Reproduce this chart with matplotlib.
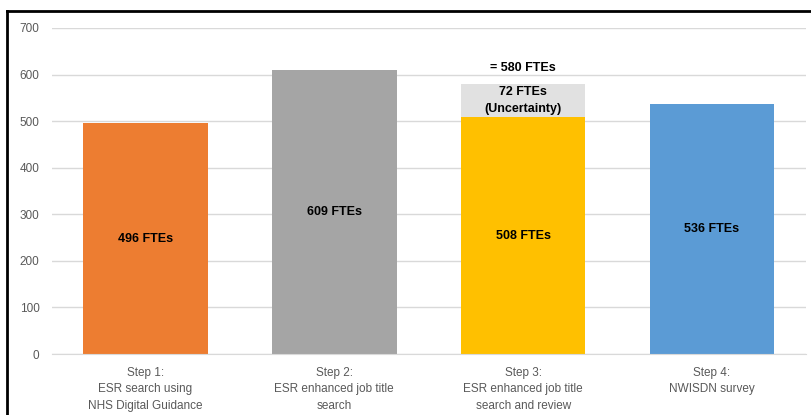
import matplotlib.pyplot as plt
from matplotlib.lines import Line2D

steps = ["Step 1:\nESR search using\nNHS Digital Guidance",
         "Step 2:\nESR enhanced job title\nsearch",
         "Step 3:\nESR enhanced job title\nsearch and review",
         "Step 4:\nNWISDN survey"]
ftes = [496, 609, 508, 536]
uncertainty = [0, 0, 72, 0]
colors = ["#ED7D31", "#A5A5A5", "#FFC000", "#5B9BD5"]

plt.rcParams['font.family'] = ['Liberation Sans', 'DejaVu Sans']

fig = plt.figure(figsize=(8.11, 4.15), dpi=100)
ax = fig.add_axes([52 / 811, 61 / 415, 754 / 811, 326 / 415])

x = range(len(steps))
ax.bar(x, ftes, width=0.66, color=colors, zorder=2)
ax.bar(x, uncertainty, bottom=ftes, width=0.66, color="#E1E1E1", zorder=2)

for i, v in enumerate(ftes):
    ax.text(i, v / 2, f"{v} FTEs", ha="center", va="center",
            fontsize=9, fontweight="bold", color="black")
    if uncertainty[i]:
        u = uncertainty[i]
        ax.text(i, v + u / 2 + 1, f"{u} FTEs\n(Uncertainty)", ha="center", va="center",
                fontsize=9, fontweight="bold", linespacing=1.55)
        ax.text(i, v + u + 35, f"= {v + u} FTEs", ha="center", va="center",
                fontsize=9, fontweight="bold")

ax.set_ylim(0, 700)
ax.set_xlim(-0.495, 3.498)
ax.set_yticks(range(0, 701, 100))
ax.set_xticks(list(x))
ax.set_xticklabels(steps, fontsize=8.5, color="#595959", linespacing=1.55)
ax.tick_params(length=0, labelsize=8.5, labelcolor="#595959")
ax.tick_params(axis="y", pad=9)
ax.tick_params(axis="x", pad=9)
ax.yaxis.grid(True, color="#D9D9D9", linewidth=1, zorder=0)
for s in ["top", "right", "left"]:
    ax.spines[s].set_visible(False)
ax.spines["bottom"].set_color("#D9D9D9")

# frame lines along the top and left edges
fig.add_artist(Line2D([7 / 811, 7 / 811], [0, 404 / 415], color="black", linewidth=2))
fig.add_artist(Line2D([7 / 811, 1], [404 / 415, 404 / 415], color="black", linewidth=2))

fig.savefig("out.png", dpi=100)
